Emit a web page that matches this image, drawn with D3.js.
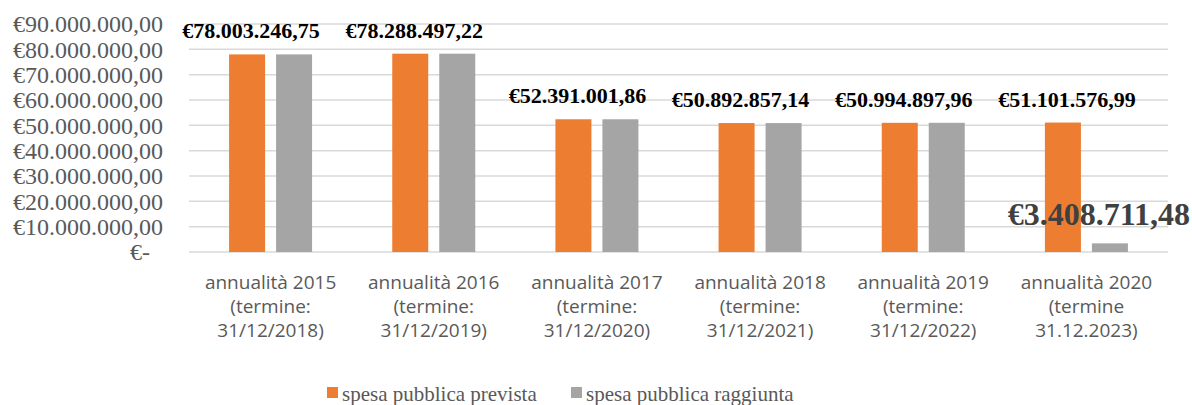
<!DOCTYPE html>
<html>
<head>
<meta charset="utf-8">
<script src="https://cdn.jsdelivr.net/npm/d3@7"></script>
<style>
  html, body { margin: 0; padding: 0; background: #fff; }
  svg { display: block; }
</style>
</head>
<body>
<svg id="chart" width="1192" height="405"></svg>
<script>
// data
var categories = [
  ["annualità 2015", "(termine:", "31/12/2018)"],
  ["annualità 2016", "(termine:", "31/12/2019)"],
  ["annualità 2017", "(termine:", "31/12/2020)"],
  ["annualità 2018", "(termine:", "31/12/2021)"],
  ["annualità 2019", "(termine:", "31/12/2022)"],
  ["annualità 2020", "(termine", "31.12.2023)"]
];
var prevista   = [78003246.75, 78288497.22, 52391001.86, 50892857.14, 50994897.96, 51101576.99];
var raggiunta  = [78003246.75, 78288497.22, 52391001.86, 50892857.14, 50994897.96, 3408711.48];
var seriesNames = ["spesa pubblica prevista", "spesa pubblica raggiunta"];
var seriesColors = ["#ED7D31", "#A5A5A5"];
var yTicks = d3.range(0, 90000001, 10000000);

var serif = "'Liberation Serif', 'Times New Roman', serif";

var svg = d3.select("#chart");
var margin = {top: 24, left: 189, right: 24, bottom: 153};
var width = 1192 - margin.left - margin.right;
var height = 405 - margin.top - margin.bottom;

var g = svg.append("g").attr("transform", "translate(" + margin.left + "," + margin.top + ")");

var x = d3.scaleBand().domain(d3.range(categories.length)).range([0, width]);
var y = d3.scaleLinear().domain([0, 90000000]).range([height, 0]);

var barW = 36, gap = 11;

function euro(v) {
  var parts = v.toFixed(2).split(".");
  return "€" + parts[0].replace(/\B(?=(\d{3})+(?!\d))/g, ".") + "," + parts[1];
}

// gridlines
g.selectAll(".grid").data(yTicks).enter().append("line")
  .attr("x1", 0).attr("x2", width)
  .attr("y1", function(d){ return y(d); }).attr("y2", function(d){ return y(d); })
  .attr("stroke", "#d9d9d9").attr("stroke-width", 1.5);

// y axis labels
var yAxis = g.append("g").call(d3.axisLeft(y).tickValues(yTicks).tickSize(0).tickPadding(26)
  .tickFormat(function(d){ return d === 0 ? "€-" : euro(d); }));
yAxis.select(".domain").remove();
yAxis.selectAll("text")
  .attr("font-family", serif)
  .attr("font-size", 24).attr("fill", "#595959")
  .attr("x", function(d){ return d === 0 ? -39 : -26; })
  .attr("dy", "0.32em");

// bars
var data = [prevista, raggiunta];
data.forEach(function(vals, s) {
  g.selectAll(".bar" + s).data(vals).enter().append("rect")
    .attr("x", function(d, i){ return x(i) + x.bandwidth() / 2 + (s === 0 ? -gap / 2 - barW : gap / 2); })
    .attr("y", function(d){ return y(d); })
    .attr("width", barW)
    .attr("height", function(d){ return y(0) - y(d); })
    .attr("fill", seriesColors[s]);
});

// orange labels
g.selectAll(".lbl").data(prevista).enter().append("text")
  .attr("x", function(d, i){ return x(i) + x.bandwidth() / 2 - gap / 2 - barW / 2 + 4; })
  .attr("y", function(d){ return y(d) - 16; })
  .attr("text-anchor", "middle")
  .attr("font-family", serif)
  .attr("font-weight", "bold").attr("font-size", 22).attr("fill", "#000")
  .text(function(d){ return euro(d); });

// last gray label
var last = raggiunta.length - 1;
g.append("text")
  .attr("x", x(last) + x.bandwidth() / 2 + gap / 2 + barW / 2 - 11)
  .attr("y", y(raggiunta[last]) - 18)
  .attr("text-anchor", "middle")
  .attr("font-family", serif)
  .attr("font-weight", "bold").attr("font-size", 32).attr("fill", "#404040")
  .text(euro(raggiunta[last]));

// x labels
var xl = g.selectAll(".xl").data(categories).enter().append("text")
  .attr("text-anchor", "middle")
  .attr("font-family", "'Open Sans', 'Noto Sans', sans-serif")
  .attr("font-size", 19).attr("fill", "#595959");
xl.selectAll("tspan").data(function(d){ return d; }).enter().append("tspan")
  .attr("x", function(){ var i = categories.indexOf(d3.select(this.parentNode).datum()); return x(i) + x.bandwidth() / 2; })
  .attr("y", function(d, j){ return height + 37 + j * 24; })
  .text(function(d){ return d; });

// legend
var legX = [327, 571];
seriesNames.forEach(function(n, s) {
  svg.append("rect").attr("x", legX[s]).attr("y", 387).attr("width", 11).attr("height", 11).attr("fill", seriesColors[s]);
  svg.append("text").attr("x", legX[s] + 15).attr("y", 401)
    .attr("font-family", serif)
    .attr("font-size", 21).attr("fill", "#595959").text(n);
});
</script>
</body>
</html>
